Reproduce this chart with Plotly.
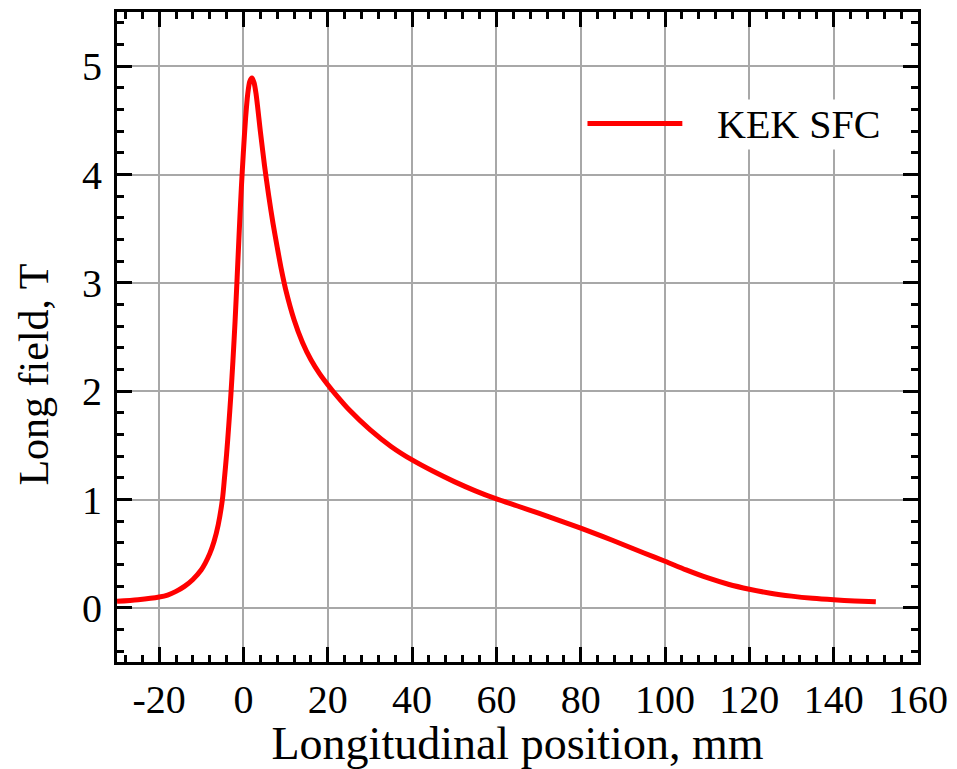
import plotly.graph_objects as go

# Longitudinal position (mm) and longitudinal field (T)
position_mm = [-30, -25, -20, -18, -16, -14, -12, -10, -9, -8, -7, -6, -5, -4.5, -4, -3.5,
               -3, -2.5, -2, -1.5, -1, -0.5, 0, 0.5, 1, 1.5, 2, 2.5, 3, 4, 5, 6, 7, 8, 9,
               10, 12, 14, 16, 18, 20, 22.5, 25, 30, 35, 40, 45, 50, 55, 60, 65, 70, 75,
               80, 85, 90, 95, 100, 105, 110, 115, 120, 125, 130, 135, 140, 145, 150]
field_T = [0.06, 0.075, 0.10, 0.118, 0.152, 0.198, 0.262, 0.352, 0.418, 0.50, 0.61, 0.765,
           1.00, 1.20, 1.42, 1.68, 1.96, 2.28, 2.64, 3.05, 3.48, 3.88, 4.22, 4.52, 4.74,
           4.86, 4.89, 4.85, 4.74, 4.40, 4.08, 3.80, 3.55, 3.33, 3.12, 2.94, 2.66, 2.45,
           2.29, 2.165, 2.06, 1.94, 1.83, 1.645, 1.49, 1.365, 1.26, 1.165, 1.08, 1.005,
           0.94, 0.874, 0.806, 0.736, 0.662, 0.585, 0.506, 0.43, 0.35, 0.278, 0.218, 0.172,
           0.135, 0.108, 0.088, 0.074, 0.063, 0.055]
series_name = "KEK SFC"
x_title = "Longitudinal position, mm"
y_title = "Long field, T"
x_tick_vals = [-20, 0, 20, 40, 60, 80, 100, 120, 140, 160]
x_tick_text = ["-20", "0", "20", "40", "60", "80", "100", "120", "140", "160"]
y_tick_vals = [0, 1, 2, 3, 4, 5]
y_tick_text = ["0", "1", "2", "3", "4", "5"]

FONT = "Liberation Serif"
RED = "#ff0000"
GRID = "#a8a8a8"

fig = go.Figure()
fig.add_trace(go.Scatter(x=position_mm, y=field_T, mode="lines", name=series_name,
                         line=dict(color=RED, width=5, shape="spline", smoothing=0.8),
                         showlegend=False))

# legend key drawn as a short line plus text label
fig.add_shape(type="line", xref="x", yref="y", x0=81.6, x1=104.1, y0=4.47, y1=4.47,
              line=dict(color=RED, width=5))
fig.add_annotation(x=111.6, y=4.46, xref="x", yref="y", text=series_name, showarrow=False,
                   xanchor="left", yanchor="middle", bgcolor="white", borderpad=2,
                   font=dict(family=FONT, size=40, color="black"))

# y-axis title (placed as rotated text, as in the reference it sits below the axis centre)
fig.add_annotation(x=-0.103, y=0.443, xref="paper", yref="paper", text=y_title,
                   showarrow=False, textangle=-90, xanchor="center", yanchor="middle",
                   font=dict(family=FONT, size=42, color="black"))

axis_common = dict(
    showline=True, linewidth=3, linecolor="black", mirror="ticks",
    ticks="inside", ticklen=15, tickwidth=3, tickcolor="black",
    showgrid=True, gridcolor=GRID, gridwidth=1.5, zeroline=False,
    tickfont=dict(family=FONT, size=40, color="black"),
)

fig.update_xaxes(range=[-30, 160], tickmode="array", tickvals=x_tick_vals, ticktext=x_tick_text,
                 minor=dict(dtick=4, tick0=0, ticks="inside", ticklen=7, tickwidth=2.5,
                            tickcolor="black", showgrid=False),
                 title=dict(text=x_title, font=dict(family=FONT, size=46, color="black"),
                            standoff=0),
                 **axis_common)
fig.update_yaxes(range=[-0.5, 5.5], tickmode="array", tickvals=y_tick_vals, ticktext=y_tick_text,
                 minor=dict(dtick=0.2, tick0=0, ticks="inside", ticklen=7, tickwidth=2.5,
                            tickcolor="black", showgrid=False),
                 ticklabelstandoff=4,
                 **axis_common)

fig.update_layout(
    width=957, height=769,
    margin=dict(l=117, r=39, t=9, b=107, pad=0),
    paper_bgcolor="white", plot_bgcolor="white",
    font=dict(family=FONT, color="black"),
)

fig.write_html("out.html")
